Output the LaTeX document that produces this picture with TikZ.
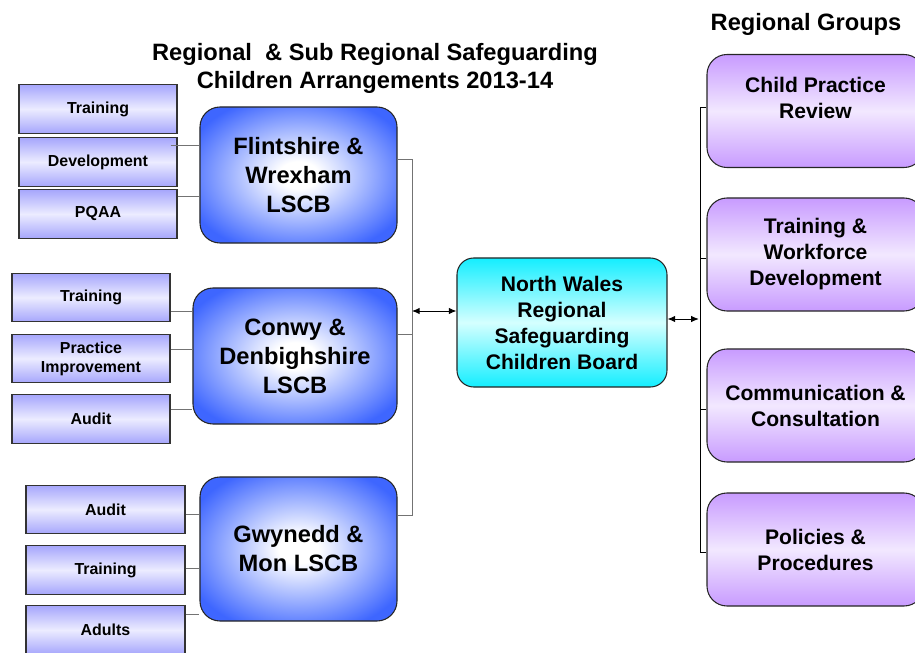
\documentclass[tikz,border=0pt]{standalone}
\usepackage{fontspec}
\setmainfont{Liberation Sans}
\usetikzlibrary{arrows.meta}

\definecolor{subedge}{RGB}{166,166,252}
\definecolor{submid}{RGB}{236,236,255}
\definecolor{lscbblue}{RGB}{62,102,255}
\definecolor{boardedge}{RGB}{20,238,255}
\definecolor{boardmid}{RGB}{212,255,255}
\definecolor{groupedge}{RGB}{200,155,255}
\definecolor{groupmid}{RGB}{242,232,255}
\pgfdeclareradialshading{lscbglow}{\pgfpoint{0bp}{0bp}}{color(0bp)=(white); color(5bp)=(white); color(30bp)=(lscbblue); color(50bp)=(lscbblue)}

\begin{document}
\begin{tikzpicture}[x=0.03cm, y=-0.03cm,
  subbox/.style={draw=black!80, line width=0.9pt, top color=subedge, bottom color=subedge, middle color=submid,
    minimum width=4.74cm, minimum height=1.46cm, inner sep=0pt, align=center,
    font=\bfseries\fontsize{13.6}{16.2}\selectfont},
  lscb/.style={draw=black!85, line width=0.9pt, rounded corners=0.6cm, shading=lscbglow,
    minimum width=5.91cm, minimum height=4.08cm, align=center,
    font=\bfseries\fontsize{20.2}{24.8}\selectfont},
  board/.style={draw=black!85, line width=0.9pt, rounded corners=0.5cm, top color=boardedge, bottom color=boardedge, middle color=boardmid,
    minimum width=6.3cm, minimum height=3.87cm, align=center,
    font=\bfseries\fontsize{18}{22.2}\selectfont},
  group/.style={draw=black!85, line width=0.9pt, rounded corners=0.6cm, top color=groupedge, bottom color=groupedge, middle color=groupmid,
    minimum width=6.51cm, minimum height=3.39cm, align=center,
    font=\bfseries\fontsize{18}{22.2}\selectfont},
  link/.style={draw=black!55, line width=0.8pt},
  glink/.style={draw=black, line width=0.7pt},
  arw/.style={{Latex[length=6.5pt,width=5.5pt]}-{Latex[length=6.5pt,width=5.5pt]}, line width=0.8pt},
  heading/.style={font=\bfseries\fontsize{20.2}{24}\selectfont, align=center}]

\useasboundingbox (0,0) rectangle (915,653);
\clip (0,0) rectangle (915,653);

% headings
\node[heading] (title) at (375,68) {Regional\ \ \& Sub Regional Safeguarding\\Children Arrangements 2013-14};
\node[heading] (groups) at (806,24) {Regional Groups};

% Flintshire & Wrexham
\node[subbox] (trainA) at (98,109) {Training};
\node[subbox] (devA) at (98,162) {Development};
\node[subbox] (pqaaA) at (98,214) {PQAA};
\node[lscb] (flint) at (298.5,175) {Flintshire \&\\Wrexham\\LSCB};

% Conwy & Denbighshire
\node[subbox] (trainB) at (91,297.5) {Training};
\node[subbox] (pracB) at (91,358.5) {Practice\\Improvement};
\node[subbox] (auditB) at (91,419) {Audit};
\node[lscb, minimum width=6.12cm] (conwy) at (295,356) {Conwy \&\\Denbighshire\\LSCB};

% Gwynedd & Mon
\node[subbox, minimum width=4.77cm] (auditC) at (105.5,509.5) {Audit};
\node[subbox, minimum width=4.77cm] (trainC) at (105.5,570) {Training};
\node[subbox, minimum width=4.77cm] (adultC) at (105.5,630) {Adults};
\node[lscb, minimum height=4.32cm] (gwyn) at (298.5,549) {Gwynedd \&\\Mon LSCB};

% regional board
\node[board] (nw) at (562,322.5) {North Wales\\Regional\\Safeguarding\\Children Board};

% regional groups
\node[group] (cpr) at (815.5,111) {Child Practice\\Review\\\mbox{}};
\node[group] (twd) at (815.5,254.5) {Training \&\\Workforce\\Development};
\node[group] (cc) at (815.5,405.5) {Communication \&\\Consultation};
\node[group] (pp) at (815.5,549.5) {Policies \&\\Procedures};

% sub groups to LSCBs
\foreach \s/\dx/\dy/\t in {devA/-7/-17/flint, pqaaA/0/-17.5/flint, trainB/0/13.5/conwy, pracB/0/-9.5/conwy,
    auditB/0/-10/conwy, auditC/0/4.5/gwyn, trainC/0/-2/gwyn, adultC/0/-16/gwyn}
  \draw[link] (\s.east) ++(\dx,\dy) coordinate (tap) -- (tap -| \t.west);

% LSCBs to board
\coordinate (busL) at (412,0);
\coordinate (busR) at (700,0);
\path (flint.east) ++(0,-16) coordinate (fOut) (conwy.east) ++(0,-22) coordinate (cOut)
  (gwyn.east) ++(0,-34) coordinate (gOut) (nw.west) ++(0,-11.5) coordinate (nIn)
  (nw.east) ++(0,-3.5) coordinate (nOut);
\draw[link] (fOut) -- (fOut -| busL) -- (gOut -| busL) -- (gOut);
\draw[link] (cOut) -- (cOut -| busL);
\draw[arw] (nIn -| busL) -- (nIn);

% board to regional groups
\draw[arw] (nOut) -- ([xshift=-1pt]nOut -| busR);
\path (cpr.west) ++(0,-4) coordinate (g1) (twd.west) ++(0,3.5) coordinate (g2)
  (cc.west) ++(0,3.5) coordinate (g3) (pp.west) ++(0,2.5) coordinate (g4);
\draw[glink] (g1) -- (g1 -| busR) -- (g4 -| busR) -- (g4);
\draw[glink] (g2) -- (g2 -| busR) (g3) -- (g3 -| busR);
\end{tikzpicture}
\end{document}
